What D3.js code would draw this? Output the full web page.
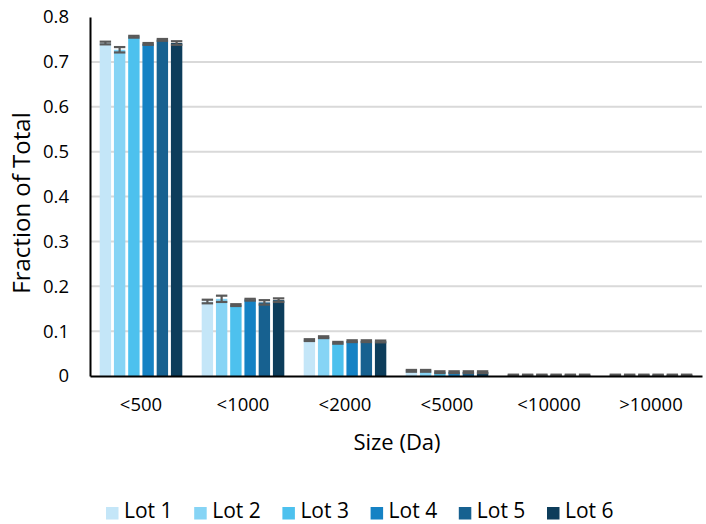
<!DOCTYPE html>
<html>
<head>
<meta charset="utf-8">
<script src="https://cdn.jsdelivr.net/npm/d3@7"></script>
<style>
  html, body { margin: 0; padding: 0; background: #fff; }
  text { font-family: "Open Sans", "Liberation Sans", sans-serif; fill: #000; }
</style>
</head>
<body>
<svg id="chart" width="706" height="524"></svg>
<script>
const categories = ["<500", "<1000", "<2000", "<5000", "<10000", ">10000"];
const lots = ["Lot 1", "Lot 2", "Lot 3", "Lot 4", "Lot 5", "Lot 6"];
const colors = ["#c4e6f8", "#86d4f5", "#4dc1ee", "#1582c4", "#176190", "#0d3d5b"];
// values per lot, one entry per category
const lot1 = [0.742, 0.166, 0.080, 0.0115, 0.002, 0.002];
const lot2 = [0.727, 0.172, 0.0865, 0.0115, 0.002, 0.002];
const lot3 = [0.756, 0.158, 0.074, 0.0085, 0.002, 0.002];
const lot4 = [0.740, 0.170, 0.0776, 0.0085, 0.002, 0.002];
const lot5 = [0.749, 0.164, 0.0776, 0.0085, 0.002, 0.002];
const lot6 = [0.742, 0.169, 0.077, 0.0085, 0.002, 0.002];
const err1 = [0.003, 0.004, 0.002, 0.002, 0.001, 0.001];
const err2 = [0.006, 0.007, 0.002, 0.002, 0.001, 0.001];
const err3 = [0.002, 0.002, 0.002, 0.002, 0.001, 0.001];
const err4 = [0.002, 0.002, 0.002, 0.002, 0.001, 0.001];
const err5 = [0.002, 0.005, 0.002, 0.002, 0.001, 0.001];
const err6 = [0.004, 0.004, 0.002, 0.002, 0.001, 0.001];
const yTicks = [0, 0.1, 0.2, 0.3, 0.4, 0.5, 0.6, 0.7, 0.8];
const yTickLabels = ["0", "0.1", "0.2", "0.3", "0.4", "0.5", "0.6", "0.7", "0.8"];

(function () {
const values = [lot1, lot2, lot3, lot4, lot5, lot6];
const errors = [err1, err2, err3, err4, err5, err6];

const svg = d3.select("#chart");
const mLeft = 90, mRight = 702, mTop = 17, mBottom = 376;

const x0 = d3.scaleBand().domain(categories).range([mLeft, mRight]).paddingInner(0.19).paddingOuter(0.095);
const x1 = d3.scaleBand().domain(lots).range([0, x0.bandwidth()]).paddingInner(0.2);
const y = d3.scaleLinear().domain([0, 0.8]).range([mBottom, mTop]);

// gridlines
svg.append("g").selectAll("line").data(yTicks.filter(t => t > 0 && t < 0.8)).join("line")
  .attr("x1", mLeft).attr("x2", mRight)
  .attr("y1", d => y(d)).attr("y2", d => y(d))
  .attr("stroke", "#d9d9d9").attr("stroke-width", 2);

// bars
const data = [];
categories.forEach((c, ci) => lots.forEach((l, li) => data.push({c, l, li, v: values[li][ci], e: errors[li][ci]})));

svg.append("g").selectAll("rect").data(data).join("rect")
  .attr("x", d => x0(d.c) + x1(d.l))
  .attr("width", x1.bandwidth())
  .attr("y", d => y(d.v))
  .attr("height", d => y(0) - y(d.v))
  .attr("fill", d => colors[d.li]);

// error bars
const eg = svg.append("g").attr("stroke", "#595959").attr("stroke-width", 2.2);
data.forEach(d => {
  const cx = x0(d.c) + x1(d.l) + x1.bandwidth() / 2;
  const hw = x1.bandwidth() / 2;
  const y1 = y(d.v + d.e), y2 = y(Math.max(0, d.v - d.e));
  eg.append("line").attr("x1", cx).attr("x2", cx).attr("y1", y1).attr("y2", y2);
  eg.append("line").attr("x1", cx - hw).attr("x2", cx + hw).attr("y1", y1).attr("y2", y1);
  eg.append("line").attr("x1", cx - hw).attr("x2", cx + hw).attr("y1", y2).attr("y2", y2);
});

// axes
const yAxis = d3.axisLeft(y).tickValues(yTicks).tickFormat((d, i) => yTickLabels[i]).tickSize(0).tickPadding(21);
const yg = svg.append("g").attr("transform", `translate(${mLeft},0)`).call(yAxis);
yg.select(".domain").attr("stroke", "#000").attr("stroke-width", 2);
yg.selectAll("text").style("font-size", "18.5px").style("font-family", "'Open Sans', sans-serif");

const xAxis = d3.axisBottom(x0).tickSize(0).tickPadding(22);
const xg = svg.append("g").attr("transform", `translate(0,${mBottom})`).call(xAxis);
xg.select(".domain").attr("stroke", "#000").attr("stroke-width", 2);
xg.selectAll("text").style("font-size", "18.5px").style("font-family", "'Open Sans', sans-serif");

// titles
svg.append("text").attr("x", 397).attr("y", 450)
  .attr("text-anchor", "middle").style("font-size", "22px").text("Size (Da)");
svg.append("text").attr("transform", `translate(30,203) rotate(-90)`)
  .attr("text-anchor", "middle").style("font-size", "24px").text("Fraction of Total");

// legend
const lx = d3.scalePoint().domain(lots).range([106, 547]);
const lg = svg.append("g");
lots.forEach((l, i) => {
  lg.append("rect").attr("x", lx(l)).attr("y", 507).attr("width", 12.5).attr("height", 12.5).attr("fill", colors[i]);
  lg.append("text").attr("x", lx(l) + 18).attr("y", 518).style("font-size", "21px").text(l);
});
})();
</script>
</body>
</html>
